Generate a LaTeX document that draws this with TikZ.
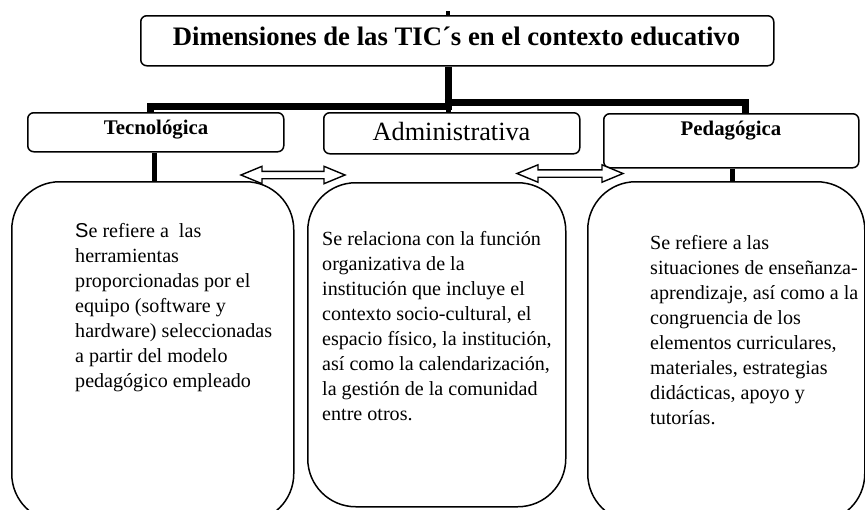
\documentclass[tikz,border=0pt]{standalone}
\usepackage{fontspec}
\setmainfont{Liberation Serif}
\newfontfamily\arialf{Liberation Sans}
\usetikzlibrary{shapes.arrows}
\begin{document}
\begin{tikzpicture}[x=1pt,y=-1pt,
  hbox/.style={draw, line width=1.5pt, rounded corners=6pt, inner sep=0pt, anchor=north west},
  bigbox/.style={draw, line width=1.5pt, rounded corners=48pt, inner sep=0pt, anchor=north west},
  thk/.style={line width=7pt, line join=miter},
  mid/.style={line width=5pt},
  body/.style={font=\fontsize{20.1}{25}\selectfont, align=left, anchor=north west, inner sep=0pt},
  darrow/.style={double arrow, draw, fill=white, line width=1.4pt, inner sep=0pt,
    double arrow head extend=5pt, double arrow tip angle=45}]
\useasboundingbox (0,0) rectangle (865,509);
\clip (0,0) rectangle (865,509);
% coordinates
\coordinate (j) at (448,0);
\coordinate (tl) at (150,0);
\coordinate (tr) at (745,0);
\coordinate (tx) at (154,0);
\coordinate (px) at (732,0);
\coordinate (tick) at (448,11);
% boxes
\node[hbox, minimum width=633pt, minimum height=50pt] (t) at (140,15) {};
\node[font=\bfseries\fontsize{26.7}{30}\selectfont, anchor=base, inner sep=0pt] (tt) at (456.5,45) {Dimensiones de las TIC´s en el contexto educativo};
\node[hbox, minimum width=256pt, minimum height=39pt] (tec) at (27,112) {};
\node[font=\bfseries\fontsize{20.8}{24}\selectfont, anchor=base, inner sep=0pt] (tect) at (156,134) {Tecnológica};
\node[hbox, minimum width=256pt, minimum height=41pt] (adm) at (323,112) {};
\node[font=\fontsize{26.3}{30}\selectfont, anchor=base, inner sep=0pt] (admt) at (451.5,140) {Administrativa};
\node[hbox, minimum width=255pt, minimum height=54pt] (ped) at (603,113) {};
\node[font=\bfseries\fontsize{20.8}{24}\selectfont, anchor=base, inner sep=0pt] (pedt) at (731,135) {Pedagógica};
\node[bigbox, minimum width=282pt, minimum height=340pt] (lb) at (11,181) {};
\node[bigbox, minimum width=258pt, minimum height=324pt] (mb) at (307,182) {};
\node[bigbox, minimum width=277pt, minimum height=340pt] (rb) at (587,181) {};
% connectors
\draw[line width=4pt] (tick) -- (t.north -| tick);
\draw[thk] (t.south -| j) -- (448,106);
\draw[thk] (451.5,106) -- (150,106) -- (tec.north -| tl);
\draw[thk] (444.5,102) -- (745,102) -- (ped.north -| tr);
\draw[mid] (448,106) -- (adm.north -| j);
\draw[mid] (tec.south -| tx) -- (tx |- lb.north);
\draw[mid] (ped.south -| px) -- (px |- rb.north);
\node[darrow, minimum height=104pt] (a1) at (293,175) {\rule{0pt}{6pt}};
\node[darrow, minimum height=106pt] (a2) at (570,173.5) {\rule{0pt}{6pt}};
% texts
\node[body] (lbt) at (75,223.5) {{\arialf S}e refiere a\ \ las\\herramientas\\proporcionadas por el\\equipo (software y\\hardware) seleccionadas\\a partir del modelo\\pedagógico empleado};
\node[body] (mbt) at (322,231.5) {Se relaciona con la función\\organizativa de la\\institución que incluye el\\contexto socio-cultural, el\\espacio físico, la institución,\\así como la calendarización,\\la gestión de la comunidad\\entre otros.};
\node[body] (rbt) at (650,235.5) {Se refiere a las\\situaciones de enseñanza-\\aprendizaje, así como a la\\congruencia de los\\elementos curriculares,\\materiales, estrategias\\didácticas, apoyo y\\tutorías.};
\end{tikzpicture}
\end{document}
